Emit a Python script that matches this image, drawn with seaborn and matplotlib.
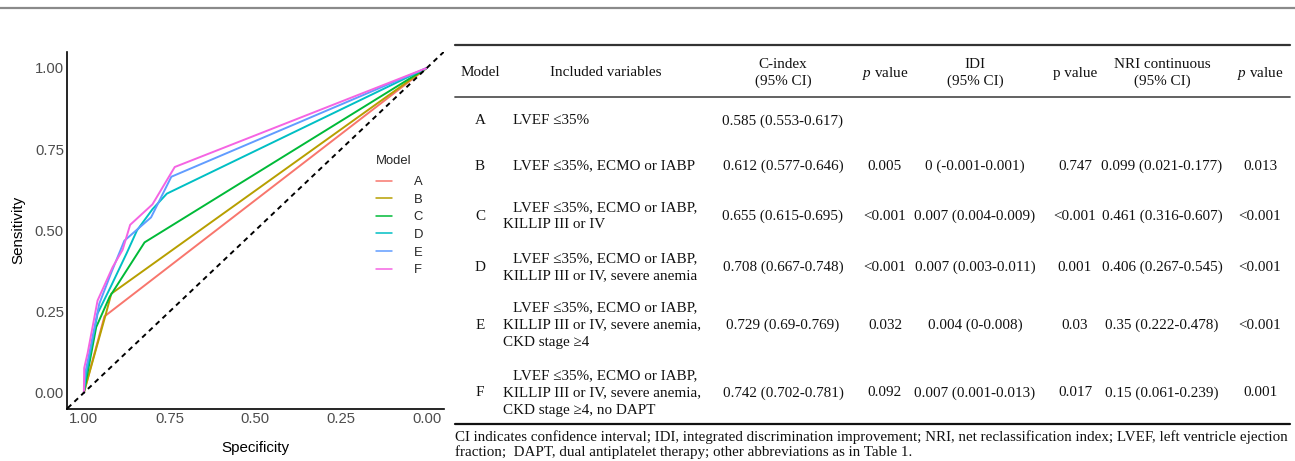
import numpy as np
import pandas as pd
import matplotlib
matplotlib.use("Agg")
import matplotlib.pyplot as plt
import seaborn as sns
from matplotlib.lines import Line2D

# ---------------- ROC data ----------------
models = ["A", "B", "C", "D", "E", "F"]
spec_A = [1.0, 0.940, 0.0]
sens_A = [0.0, 0.235, 1.0]
spec_B = [1.0, 0.937, 0.920, 0.0]
sens_B = [0.0, 0.238, 0.305, 1.0]
spec_C = [1.0, 0.964, 0.925, 0.823, 0.0]
sens_C = [0.0, 0.202, 0.295, 0.463, 1.0]
spec_D = [1.0, 0.996, 0.960, 0.920, 0.875, 0.845, 0.800, 0.758, 0.0]
sens_D = [0.0, 0.040, 0.244, 0.330, 0.430, 0.500, 0.565, 0.613, 1.0]
spec_E = [1.0, 0.996, 0.955, 0.920, 0.882, 0.804, 0.745, 0.0]
sens_E = [0.0, 0.060, 0.274, 0.370, 0.468, 0.540, 0.665, 1.0]
spec_F = [1.0, 0.999, 0.989, 0.960, 0.916, 0.887, 0.865, 0.800, 0.735, 0.0]
sens_F = [0.0, 0.076, 0.122, 0.284, 0.387, 0.440, 0.517, 0.580, 0.695, 1.0]
roc_spec = [spec_A, spec_B, spec_C, spec_D, spec_E, spec_F]
roc_sens = [sens_A, sens_B, sens_C, sens_D, sens_E, sens_F]

tick_vals = [1.0, 0.75, 0.5, 0.25, 0.0]
tick_labels = ["1.00", "0.75", "0.50", "0.25", "0.00"]

# ---------------- table data ----------------
header_cols = ["Model", "Included variables", "C-index\n(95% CI)", "$p$ value",
               "IDI\n(95% CI)", "p value", "NRI continuous\n(95% CI)", "$p$ value"]
variables = [
    ["LVEF ≤35%"],
    ["LVEF ≤35%, ECMO or IABP"],
    ["LVEF ≤35%, ECMO or IABP,", "KILLIP III or IV"],
    ["LVEF ≤35%, ECMO or IABP,", "KILLIP III or IV, severe anemia"],
    ["LVEF ≤35%, ECMO or IABP,", "KILLIP III or IV, severe anemia,", "CKD stage ≥4"],
    ["LVEF ≤35%, ECMO or IABP,", "KILLIP III or IV, severe anemia,", "CKD stage ≥4, no DAPT"],
]
cindex = ["0.585 (0.553-0.617)", "0.612 (0.577-0.646)", "0.655 (0.615-0.695)",
          "0.708 (0.667-0.748)", "0.729 (0.69-0.769)", "0.742 (0.702-0.781)"]
p_cindex = ["", "0.005", "<0.001", "<0.001", "0.032", "0.092"]
idi = ["", "0 (-0.001-0.001)", "0.007 (0.004-0.009)", "0.007 (0.003-0.011)",
       "0.004 (0-0.008)", "0.007 (0.001-0.013)"]
p_idi = ["", "0.747", "<0.001", "0.001", "0.03", "0.017"]
nri = ["", "0.099 (0.021-0.177)", "0.461 (0.316-0.607)", "0.406 (0.267-0.545)",
       "0.35 (0.222-0.478)", "0.15 (0.061-0.239)"]
p_nri = ["", "0.013", "<0.001", "<0.001", "<0.001", "0.001"]
footnote = ["CI indicates confidence interval; IDI, integrated discrimination improvement; "
            "NRI, net reclassification index; LVEF, left ventricle ejection",
            "fraction;  DAPT, dual antiplatelet therapy; other abbreviations as in Table 1."]

# ---------------- styling ----------------
sns.set_theme(style="white")
plt.rcParams['font.family'] = ['Liberation Sans', 'DejaVu Sans']
plt.rcParams['mathtext.fontset'] = 'custom'
plt.rcParams['mathtext.rm'] = 'Liberation Serif'
plt.rcParams['mathtext.it'] = 'Liberation Serif:italic'

colors = ["#F8766D", "#B79F00", "#00BA38", "#00BFC4", "#619CFF", "#F564E3"]

W, H = 1295, 461
fig = plt.figure(figsize=(W / 100, H / 100), dpi=100)
fig.patch.set_facecolor("white")

def fx(x):
    return x / W

def fy(y):
    return 1 - y / H

# ---------------- ROC axes ----------------
left, right, top, bottom = 66.7, 444.0, 51.7, 409.0
ax = fig.add_axes([fx(left), fy(bottom), (right - left) / W, (bottom - top) / H])

rows = []
for m, sp, se in zip(models, roc_spec, roc_sens):
    for order, (a, b) in enumerate(zip(sp, se)):
        rows.append({"Model": m, "Specificity": a, "Sensitivity": b, "order": order})
df = pd.DataFrame(rows)

sns.lineplot(data=df, x="Specificity", y="Sensitivity", hue="Model",
             hue_order=models, palette=colors, sort=False, estimator=None,
             linewidth=1.4, ax=ax, legend=False)
ax.axline((1, 0), (0, 1), color="black", linestyle=(0, (2.6, 2.2)), linewidth=1.4)

ax.set_xlim(1.05, -0.05)
ax.set_ylim(-0.05, 1.05)
ax.set_xticks(tick_vals)
ax.set_xticklabels(tick_labels)
ax.set_yticks(tick_vals[::-1])
ax.set_yticklabels(tick_labels[::-1])
ax.tick_params(axis="both", length=0, pad=2, labelsize=10.7, labelcolor="#4D4D4D")
for s in ["top", "right"]:
    ax.spines[s].set_visible(False)
for s in ["left", "bottom"]:
    ax.spines[s].set_color("black")
    ax.spines[s].set_linewidth(1.2)
ax.set_xlabel("Specificity", fontsize=10.9, color="black", labelpad=11)
ax.set_ylabel("Sensitivity", fontsize=10.9, color="black", labelpad=7)
ax.grid(False)

handles = [Line2D([0], [0], color=c, lw=1.1) for c in colors]
leg = ax.legend(handles, models, title="Model", loc="upper left",
                bbox_to_anchor=(fx(376), fy(155)), bbox_transform=fig.transFigure,
                frameon=False, fontsize=9.4, title_fontsize=9.4,
                handlelength=1.2, handletextpad=1.7, labelspacing=0.42,
                borderpad=0, borderaxespad=0)
leg._legend_box.align = "left"
leg._legend_box.sep = 6.5

# ---------------- decorative rules ----------------
def hline(y, x0, x1, color, lw):
    fig.add_artist(Line2D([fx(x0), fx(x1)], [fy(y), fy(y)], color=color, lw=lw,
                          transform=fig.transFigure))

hline(8.5, 0, W, "#8a8a8a", 1.6)
hline(45, 455, 1290, "#333333", 1.6)
hline(97, 455, 1290, "#555555", 1.3)
hline(424, 455, 1290, "#111111", 1.6)

# ---------------- table text ----------------
serif = ['Liberation Serif', 'DejaVu Serif']
fs = 10.9
col_x = [480, 606, 783, 885, 975, 1075, 1162, 1260]
header_y = 73
line_h = 17

def put(x, y, s, ha="center"):
    fig.text(fx(x), fy(y), s, ha=ha, va="center", fontsize=fs, family=serif, color="#111111")

for cx, h in zip(col_x, header_cols):
    lines = h.split("\n")
    n = len(lines)
    for i, ln in enumerate(lines):
        put(cx, header_y + (i - (n - 1) / 2) * line_h, ln)

row_y = [121, 166, 216, 267, 325, 393]
for i, yc in enumerate(row_y):
    put(col_x[0], yc, models[i])
    lines = variables[i]
    n = len(lines)
    for j, ln in enumerate(lines):
        x0 = 513 if j == 0 else 503
        put(x0, yc + (j - (n - 1) / 2) * line_h, ln, ha="left")
    put(col_x[2], yc, cindex[i])
    put(col_x[3], yc, p_cindex[i])
    put(col_x[4], yc, idi[i])
    put(col_x[5], yc, p_idi[i])
    put(col_x[6], yc, nri[i])
    put(col_x[7], yc, p_nri[i])

for k, ln in enumerate(footnote):
    fig.text(fx(455), fy(437 + 15 * k), ln, ha="left", va="center", fontsize=10.85,
             family=serif, color="#111111")

fig.savefig("out.png", dpi=100, facecolor="white")
